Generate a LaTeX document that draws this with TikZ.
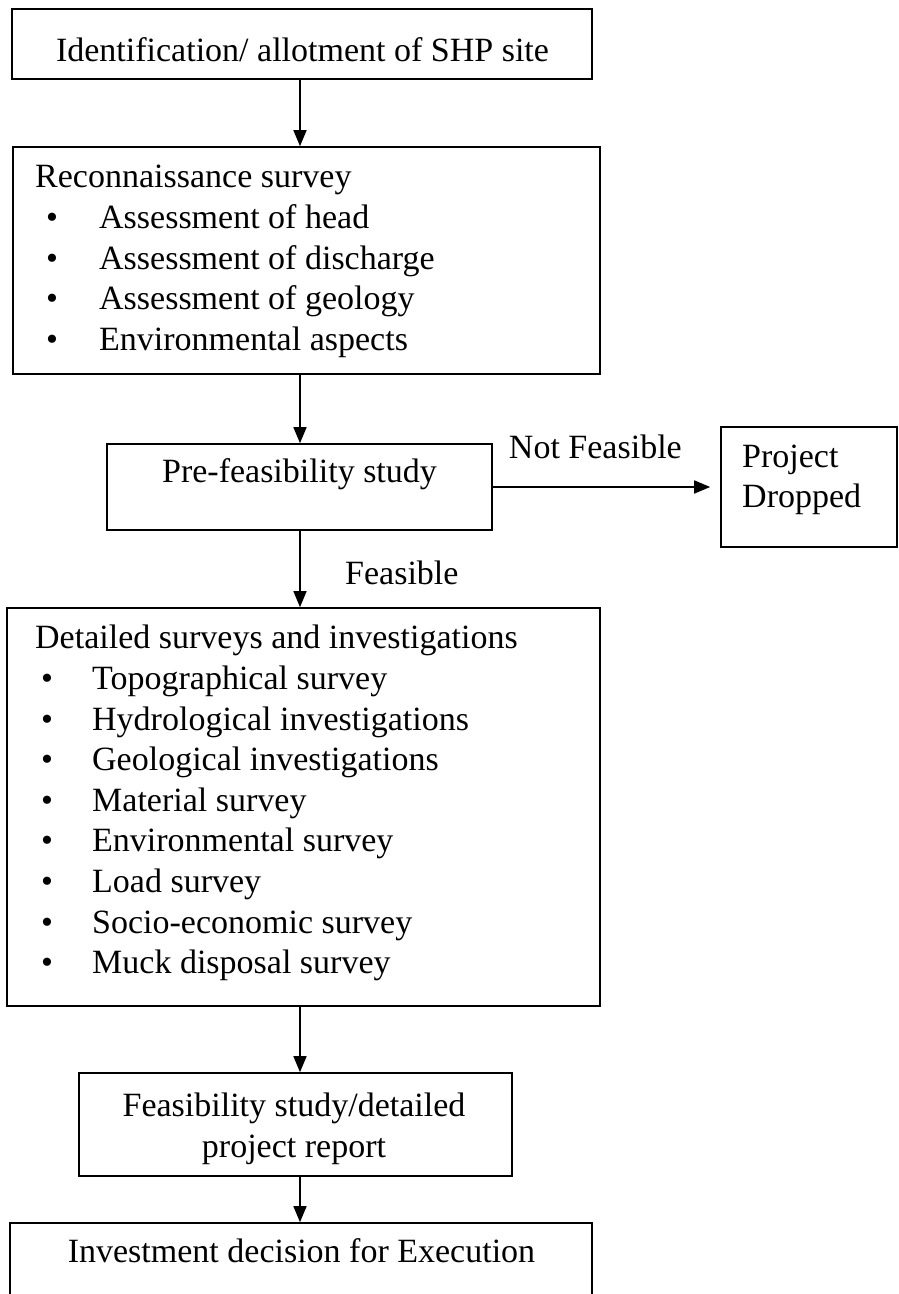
\documentclass[tikz,border=0pt]{standalone}
\usepackage{fontspec}
\setmainfont{Liberation Serif}
\usetikzlibrary{arrows.meta}
\begin{document}
\begin{tikzpicture}[x=1pt,y=1pt,
		box/.style={draw,line width=1.6pt,inner sep=0pt},
		txt/.style={inner sep=0pt,font=\fontsize{34}{40.6}\selectfont},
		flow/.style={line width=1.6pt,-{Triangle[width=13pt,length=16pt]}}]
		\useasboundingbox (0,0) rectangle (899,1294);
		\coordinate (spine) at (300,0);
		% boxes
		\node[box,minimum width=580pt,minimum height=70pt] (ident) at (302,1250) {};
		\node[box,minimum width=587pt,minimum height=227pt] (recon) at (306.5,1033.5) {};
		\node[box,minimum width=385pt,minimum height=86pt] (prefeas) at (299.5,807) {};
		\node[box,minimum width=176pt,minimum height=120pt] (dropped) at (809,807) {};
		\node[box,minimum width=593pt,minimum height=398pt] (detail) at (303.5,487) {};
		\node[box,minimum width=433pt,minimum height=103pt] (feasrep) at (295.5,169.5) {};
		\node[box,minimum width=582pt,minimum height=77pt] (invest) at (301,32.5) {};
		% texts
		\node[txt,anchor=base] (ident-t) at (302.5,1232) {Identification/ allotment of SHP site};
		\node[txt,anchor=base west] (recon-t) at (35,1106) {Reconnaissance survey};
		\foreach \t [count=\i] in {Assessment of head,Assessment of discharge,Assessment of geology,Environmental aspects}{
			\node[txt,anchor=base] (recon-b\i) at (52,1106-\i*40.6) {\textbullet};
			\node[txt,anchor=base west] (recon-i\i) at (99,1106-\i*40.6) {\t};
		}
		\node[txt,anchor=base] (prefeas-t) at (299.5,811) {Pre-feasibility study};
		\node[txt,anchor=base west] (dropped-t1) at (742,826) {Project};
		\node[txt,anchor=base west] (dropped-t2) at (742,786) {Dropped};
		\node[txt,anchor=base east] (nofeas) at (682,835) {Not Feasible};
		\node[txt,anchor=base west] (feas) at (345,709) {Feasible};
		\node[txt,anchor=base west] (detail-t) at (35,645) {Detailed surveys and investigations};
		\foreach \t [count=\i] in {Topographical survey,Hydrological investigations,Geological investigations,Material survey,Environmental survey,Load survey,Socio-economic survey,Muck disposal survey}{
			\node[txt,anchor=base] (detail-b\i) at (47,645-\i*40.6) {\textbullet};
			\node[txt,anchor=base west] (detail-i\i) at (92,645-\i*40.6) {\t};
		}
		\node[txt,anchor=base] (feasrep-t1) at (294,177) {Feasibility study/detailed};
		\node[txt,anchor=base] (feasrep-t2) at (294,136) {project report};
		\node[txt,anchor=base] (invest-t) at (301.5,31) {Investment decision for Execution};
		% connectors
		\draw[flow] (ident.south -| spine) -- (recon.north -| spine);
		\draw[flow] (recon.south -| spine) -- (prefeas.north -| spine);
		\draw[flow] (prefeas.east) -- (dropped.west) [shorten >=10pt];
		\draw[flow] (prefeas.south -| spine) -- (detail.north -| spine);
		\draw[flow] (detail.south -| spine) -- (feasrep.north -| spine);
		\draw[flow] (feasrep.south -| spine) -- (invest.north -| spine);
	\end{tikzpicture}
\end{document}
